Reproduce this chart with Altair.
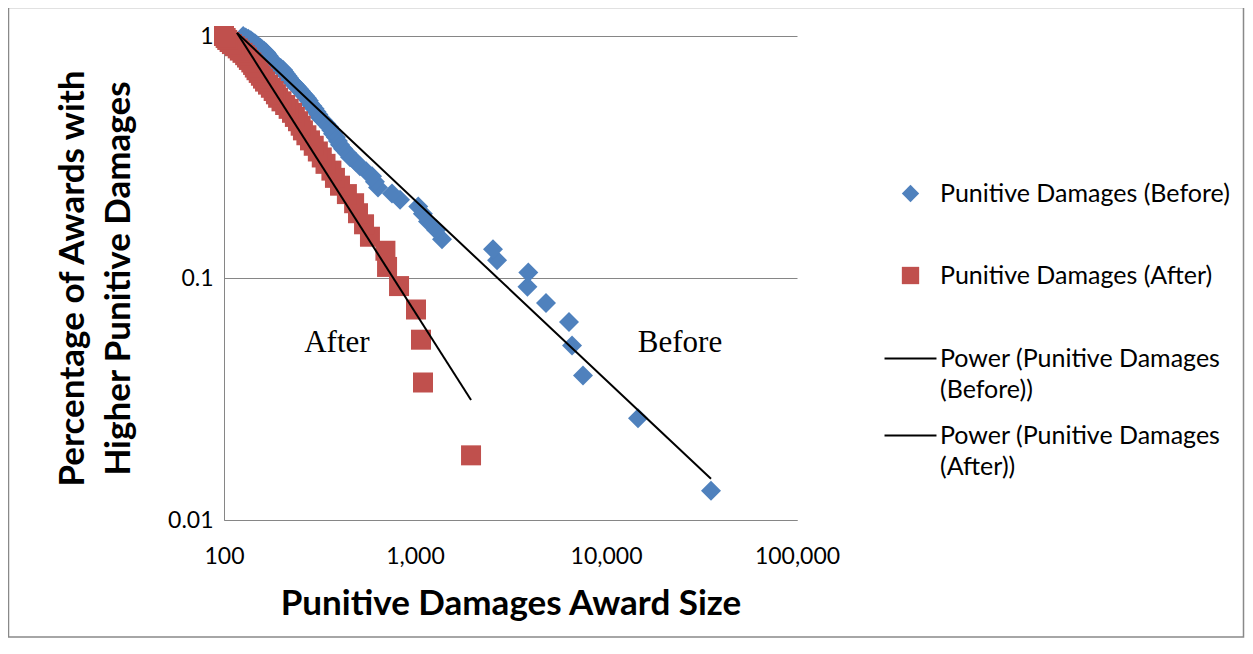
import altair as alt
import pandas as pd

# ---------------- data ----------------
series_names = ["Punitive Damages (Before)", "Punitive Damages (After)"]
trend_names = ["Power (Punitive Damages (Before))", "Power (Punitive Damages (After))"]

before_x = [35450, 14710, 7580, 6640, 6400, 4850, 3880, 3920, 2690, 2560,
            1385, 1290, 1170, 1100, 1040, 835, 758, 640, 617, 596,
            555, 515, 490, 457, 440, 420, 405, 395, 385, 372,
            365, 355, 343, 330, 318, 312, 305, 298, 290, 282,
            278, 272, 265, 258, 252, 246, 240, 234, 228, 222,
            219, 215, 211, 207, 204, 198, 192, 187, 182, 178,
            176, 173, 171, 168, 166, 162, 158, 155, 151, 148,
            145, 141, 138, 134, 130, 126]
before_y = [0.0132, 0.0263, 0.0395, 0.0526, 0.0658, 0.0789, 0.0921, 0.1053, 0.1184, 0.1316,
            0.1447, 0.1579, 0.1711, 0.1842, 0.1974, 0.2105, 0.2237, 0.2368, 0.25, 0.2632,
            0.2763, 0.2895, 0.3026, 0.3158, 0.3289, 0.3421, 0.3553, 0.3684, 0.3816, 0.3947,
            0.4079, 0.4211, 0.4342, 0.4474, 0.4605, 0.4737, 0.4868, 0.5, 0.5132, 0.5263,
            0.5395, 0.5526, 0.5658, 0.5789, 0.5921, 0.6053, 0.6184, 0.6316, 0.6447, 0.6579,
            0.6711, 0.6842, 0.6974, 0.7105, 0.7237, 0.7368, 0.75, 0.7632, 0.7763, 0.7895,
            0.8026, 0.8158, 0.8289, 0.8421, 0.8553, 0.8684, 0.8816, 0.8947, 0.9079, 0.9211,
            0.9342, 0.9474, 0.9605, 0.9737, 0.9868, 1.0]

after_x = [1965, 1101, 1075, 1012, 825, 714, 700, 581, 541, 503,
           480, 440, 405, 381, 365, 340, 325, 310, 295, 282,
           270, 259, 252, 244, 235, 227, 218, 209, 200, 192,
           187, 182, 176, 170, 164, 160, 156, 152, 148, 145,
           142, 139, 135, 132, 129, 125, 121, 118, 114, 110,
           107, 104, 102, 100]
after_y = [0.0185, 0.037, 0.0556, 0.0741, 0.0926, 0.1111, 0.1296, 0.1481, 0.1667, 0.1852,
           0.2037, 0.2222, 0.2407, 0.2593, 0.2778, 0.2963, 0.3148, 0.3333, 0.3519, 0.3704,
           0.3889, 0.4074, 0.4259, 0.4444, 0.463, 0.4815, 0.5, 0.5185, 0.537, 0.5556,
           0.5741, 0.5926, 0.6111, 0.6296, 0.6481, 0.6667, 0.6852, 0.7037, 0.7222, 0.7407,
           0.7593, 0.7778, 0.7963, 0.8148, 0.8333, 0.8519, 0.8704, 0.8889, 0.9074, 0.9259,
           0.9444, 0.963, 0.9815, 1.0]

# power trend lines (end points)
trend_before_x = [117, 35450]
trend_before_y = [1.03, 0.0148]
trend_after_x = [117, 1965]
trend_after_y = [1.03, 0.0313]

note_labels = ["After", "Before"]
note_x = [390, 24400]
note_y = [0.054, 0.054]

x_ticks = [100, 1000, 10000, 100000]
y_ticks = [0.01, 0.1, 1]

# ---------------- tables ----------------
pts = pd.DataFrame({
    "x": before_x + after_x,
    "y": before_y + after_y,
    "series": [series_names[0]] * len(before_x) + [series_names[1]] * len(after_x),
})
trend = pd.DataFrame({
    "x": trend_before_x + trend_after_x,
    "y": trend_before_y + trend_after_y,
    "trend": [trend_names[0]] * 2 + [trend_names[1]] * 2,
})
notes = pd.DataFrame({"x": note_x, "y": note_y, "label": note_labels})

FONT = "Lato"
GREY = "#868686"

xscale = alt.Scale(type="log", domain=[100, 100000], nice=False)
yscale = alt.Scale(type="log", domain=[0.01, 1], nice=False)

xenc = alt.X("x:Q", scale=xscale, axis=alt.Axis(
    values=x_ticks, format=",", title="Punitive Damages Award Size",
    titleFont=FONT, titleFontSize=35, titleFontWeight="bold", titleColor="black",
    titlePadding=18, labelFont=FONT, labelFontSize=23, labelColor="black",
    labelPadding=25, ticks=False, grid=False, domainColor=GREY, domainWidth=1,
    labelFlush=False, labelOverlap=False))
yenc = alt.Y("y:Q", scale=yscale, axis=alt.Axis(
    values=y_ticks, format="~g",
    title=["Percentage of Awards with", "Higher Punitive Damages"],
    titleFont=FONT, titleFontSize=35, titleFontWeight="bold", titleColor="black",
    titleLineHeight=46, titlePadding=31,
    labelFont=FONT, labelFontSize=23, labelColor="black", labelPadding=11,
    ticks=False, grid=True, gridColor=GREY, gridWidth=1,
    domainColor=GREY, domainWidth=1, labelOverlap=False))

legend_pts = alt.Legend(title=None, orient="none", legendX=674, legendY=145,
                        labelFont=FONT, labelFontSize=25, labelColor="black",
                        labelLimit=600, symbolSize=300, rowPadding=56,
                        labelOffset=17, symbolStrokeWidth=0, padding=0)

frame = alt.Chart(pd.DataFrame({"a": [0]})).mark_rect(
    fill=None, stroke="#898989", strokeWidth=1.5
).encode(x=alt.value(-215.5), x2=alt.value(1019.5), y=alt.value(-28.5), y2=alt.value(601))

points = alt.Chart(pts).mark_point(filled=True, size=400, opacity=1).encode(
    x=xenc, y=yenc,
    color=alt.Color("series:N", sort=series_names,
                    scale=alt.Scale(domain=series_names, range=["#4F81BD", "#C0504D"]),
                    legend=legend_pts),
    shape=alt.Shape("series:N", sort=series_names,
                    scale=alt.Scale(domain=series_names, range=["diamond", "square"]),
                    legend=legend_pts),
)

lines = alt.Chart(trend).mark_line(strokeWidth=2).encode(
    x=alt.X("x:Q", scale=xscale), y=alt.Y("y:Q", scale=yscale),
    stroke=alt.Stroke("trend:N", sort=trend_names,
                      scale=alt.Scale(domain=trend_names, range=["black", "black"]),
                      legend=alt.Legend(
                          title=None, orient="none", legendX=674, legendY=310,
                          labelFont=FONT, labelFontSize=25, labelColor="black",
                          labelLimit=600, symbolSize=300, rowPadding=20,
                          labelOffset=17, padding=0,
                          symbolType="M -3 0 L 3 0", symbolStrokeWidth=2,
                          labelExpr="indexof(datum.label, 'Power') == 0 ? [slice(datum.label, 0, 23), slice(datum.label, 24)] : datum.label")),
)

text = alt.Chart(notes).mark_text(font="Liberation Serif", fontSize=31, color="black").encode(
    x=alt.X("x:Q", scale=xscale), y=alt.Y("y:Q", scale=yscale), text="label:N")

chart = alt.layer(frame, points, lines, text).properties(
    width=573, height=484,
    padding={"left": 216, "top": 28, "right": 448, "bottom": 118},
    autosize=alt.AutoSizeParams(type="none"),
    background="white",
).configure(style={"guide-label": {"lineHeight": 31}}).configure_view(stroke=None)

chart.save("out.html", embed_options={"renderer": "svg", "actions": False})
